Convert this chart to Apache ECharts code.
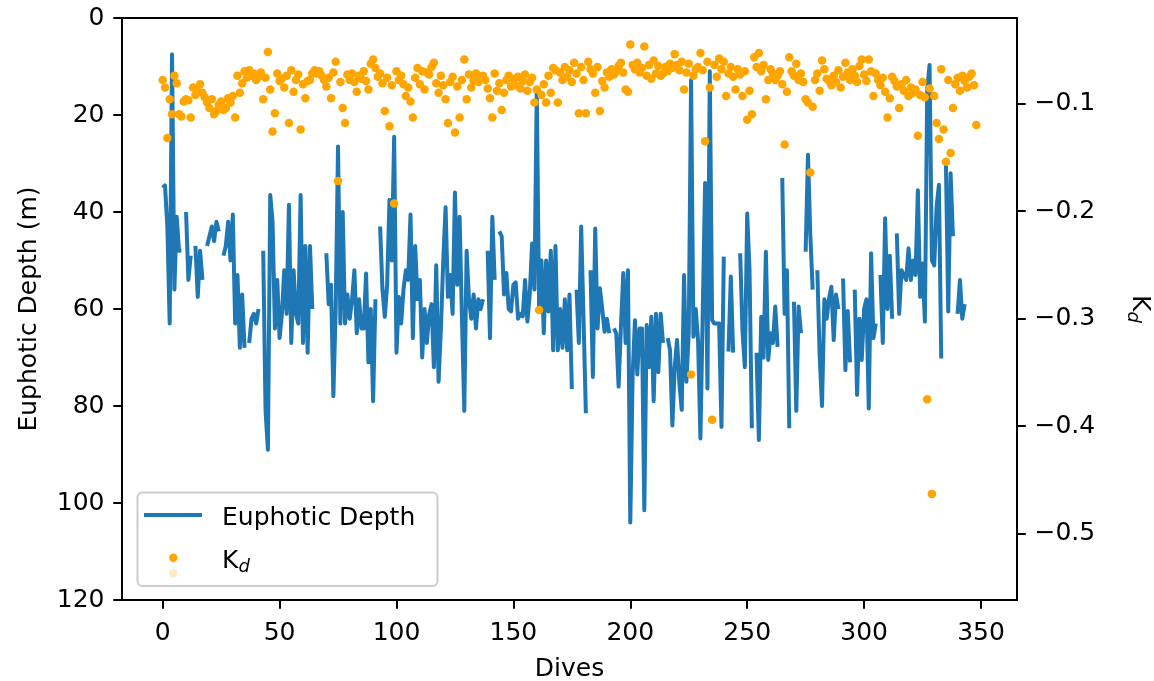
<!DOCTYPE html>
<html>
<head>
<meta charset="utf-8">
<script src="https://cdn.jsdelivr.net/npm/echarts/dist/echarts.min.js"></script>
<style>
  html, body { margin: 0; padding: 0; background: #fff; }
  #c { width: 1154px; height: 681px; }
</style>
</head>
<body>
<div id="c"></div>
<script>
// ---- Data ----
// Euphotic depth (m) per dive, dive = index; null = no value (gap in line)
const depth = [
  35, 34.5, 43, 63, 7.5, 56, 41, 48, 48, null,
  40, 54, 49, null, 47, 57.5, 48, 54, null, 47,
  45, 43, 46, 42, 44, null, 49, 47, 42, 50,
  40.5, 63, 53, 68, 57, 68, null, 67, 62, 61,
  63, 60, null, 48, 81, 89, 36.5, 42, 64, 54,
  66, 61, 52, 61, 38.5, 67, 52, 61, 63, 36.5,
  67, 47, 69, 47, 60, null, null, null, null, null,
  48.5, 59, 55, 78, 60, 26.5, 63, 40, 63, 57,
  62, 58, 52, 65, 58, 64, 64, 52.7, 71, 60,
  79, 58, null, 43, 56, 61.6, 55, 37.5, 50, 24.5,
  69, 57.5, 63, 56, 52, 54, 40.5, 66, 47, 58,
  54, 70, 60, 67, 61, 59, 72, 51, 75, 64,
  50, 39, 57.5, 53, 61, 36, 55, 41, 62, 81,
  48, 58, 62, 57, 64, 58, 60, 58, null, 48,
  66, 41, 54, null, 44, 45, 57, 52.6, 60, 60.5,
  55, 54.5, 62, 61, 61.5, 54, 62.6, 57, 46.5, 56,
  15, 60, 50, 65, 50, 60.5, 48, 68.5, 47, 68.5,
  60, 68, 58, 68.5, 57, 76.5, null, 56, 67, 43,
  62, 81.5, null, 52, 74, 43.4, 64, 55.7, 60, 64.7,
  62, 65, null, 64, 65, 76, 63.6, 52.6, 67, 52,
  104, 73.6, 62.3, 73.5, 64, 64, 101.5, 63.3, 72, 61.6,
  79, 61, 73, 61, 67, null, 66, 68.5, 84, 72,
  66.4, 75.3, 80.8, 53, 75, 65, 12.8, 65.7, 60, 66.7,
  86.7, 60, 34, 76.4, 11, 62.3, 63, 63, 63, 84.3,
  49.2, null, 68.8, 53.3, 69, null, null, 48.5, 64.7, 72,
  40.3, 52, 84.6, null, 69, 87, 61.6, 70, 48.2, 70.5,
  65, 67, 59.5, 67.8, null, 33, 61, 52, 84.6, null,
  58.5, 81, 59.5, 65, null, 48.2, 28.2, 44.7, 56, null,
  52, 69.8, 80, 58, 62, 57.8, 55.4, 66.4, 57, 60,
  null, 53.7, 72.6, 60.4, 71, null, 56, 77.7, 62, 70.5,
  60, 58, 80.5, 48.5, 66, 63, null, 53, 67, 41.3,
  60, 49, 62, null, 44.4, 61, 52, 53, 54, 47.5,
  54, 50, 53, 35.5, 57.5, 50.6, 62.6, 14.8, 9.7, 50,
  51, 39, 34.4, 70.2, null, 30, 60.5, 32, 45, null,
  61, 54, 62, 59
];

// K_d per dive, dive = index
const kd = [
  -0.078, -0.085, -0.132, -0.096, -0.110, -0.074, -0.081, -0.110, -0.112, -0.098,
  -0.096, -0.097, -0.113, -0.085, -0.092, -0.089, -0.082, -0.090, -0.094, -0.099,
  -0.104, -0.096, -0.110, -0.107, -0.101, -0.098, -0.106, -0.104, -0.095, -0.099,
  -0.093, -0.113, -0.074, -0.090, -0.081, -0.070, -0.076, -0.069, -0.074, -0.072,
  -0.078, -0.075, -0.071, -0.096, -0.076, -0.052, -0.087, -0.126, -0.109, -0.072,
  -0.079, -0.077, -0.085, -0.074, -0.118, -0.069, -0.089, -0.078, -0.073, -0.124,
  -0.082, -0.095, -0.079, -0.078, -0.072, -0.069, -0.072, -0.070, -0.074, -0.078,
  -0.084, -0.076, -0.095, -0.071, -0.061, -0.172, -0.080, -0.104, -0.118, -0.073,
  -0.078, -0.072, -0.080, -0.089, -0.074, -0.077, -0.070, -0.079, -0.087, -0.063,
  -0.059, -0.067, -0.075, -0.072, -0.081, -0.107, -0.076, -0.121, -0.083, -0.193,
  -0.070, -0.078, -0.074, -0.082, -0.093, -0.085, -0.098, -0.113, -0.076, -0.067,
  -0.082, -0.070, -0.087, -0.071, -0.073, -0.066, -0.062, -0.081, -0.090, -0.074,
  -0.083, -0.096, -0.118, -0.080, -0.075, -0.127, -0.084, -0.113, -0.078, -0.059,
  -0.096, -0.073, -0.085, -0.079, -0.072, -0.080, -0.077, -0.074, -0.078, -0.086,
  -0.095, -0.113, -0.072, -0.088, -0.081, -0.106, -0.090, -0.078, -0.074, -0.084,
  -0.077, -0.083, -0.075, -0.086, -0.079, -0.073, -0.088, -0.080, -0.076, -0.099,
  -0.087, -0.292, -0.092, -0.082, -0.099, -0.074, -0.090, -0.067, -0.069, -0.099,
  -0.071, -0.078, -0.066, -0.075, -0.069, -0.080, -0.062, -0.072, -0.109, -0.066,
  -0.078, -0.109, -0.061, -0.068, -0.072, -0.090, -0.066, -0.107, -0.079, -0.085,
  -0.071, -0.075, -0.068, -0.073, -0.070, -0.065, -0.062, -0.071, -0.087, -0.089,
  -0.045, -0.064, -0.068, -0.062, -0.071, -0.067, -0.047, -0.074, -0.064, -0.077,
  -0.060, -0.072, -0.065, -0.074, -0.072, -0.066, -0.070, -0.063, -0.067, -0.054,
  -0.064, -0.069, -0.061, -0.087, -0.071, -0.063, -0.352, -0.074, -0.068, -0.066,
  -0.053, -0.069, -0.135, -0.061, -0.085, -0.394, -0.064, -0.075, -0.058, -0.068,
  -0.061, -0.093, -0.072, -0.066, -0.075, -0.087, -0.068, -0.073, -0.093, -0.070,
  -0.115, -0.088, -0.110, -0.057, -0.066, -0.053, -0.070, -0.064, -0.096, -0.078,
  -0.068, -0.072, -0.078, -0.074, -0.070, -0.082, -0.138, -0.089, -0.057, -0.070,
  -0.074, -0.063, -0.078, -0.072, -0.080, -0.096, -0.099, -0.164, -0.103, -0.078,
  -0.072, -0.088, -0.060, -0.068, -0.077, -0.079, -0.083, -0.074, -0.080, -0.069,
  -0.085, -0.075, -0.062, -0.071, -0.078, -0.068, -0.074, -0.080, -0.065, -0.059,
  -0.073, -0.079, -0.059, -0.070, -0.093, -0.072, -0.078, -0.083, -0.076, -0.089,
  -0.113, -0.095, -0.075, -0.079, -0.084, -0.104, -0.082, -0.088, -0.078, -0.093,
  -0.085, -0.090, -0.087, -0.130, -0.092, -0.080, -0.094, -0.375, -0.086, -0.463,
  -0.093, -0.118, -0.133, -0.068, -0.124, -0.154, -0.078, -0.146, -0.104, -0.082,
  -0.076, -0.088, -0.074, -0.079, -0.085, -0.075, -0.072, -0.083, -0.120
];

const xTicks = [0, 50, 100, 150, 200, 250, 300, 350];
const depthTicks = [0, 20, 40, 60, 80, 100, 120];
const kdTicks = [-0.5, -0.4, -0.3, -0.2, -0.1];

// ---- Chart ----
const FONT = 'DejaVu Sans';
const chart = echarts.init(document.getElementById('c'), null, { renderer: 'canvas', width: 1154, height: 681 });

const labelStyle = { fontFamily: FONT, fontSize: 25, color: '#000' };
const lineDepth = depth.map((v, i) => [i, v === null ? '-' : v]);
const ptsKd = kd.map((v, i) => [i, v]);

const option = {
  animation: false,
  backgroundColor: '#ffffff',
  grid: {
    left: 122, right: 137, top: 18, bottom: 81,
    containLabel: false, outerBoundsMode: 'none',
    show: true, borderColor: '#000', borderWidth: 2, backgroundColor: 'transparent'
  },
  xAxis: {
    type: 'value', min: -17.4, max: 365.4,
    name: 'Dives', nameLocation: 'middle', nameGap: 57,
    nameTextStyle: labelStyle,
    axisLine: { show: true, onZero: false, lineStyle: { color: '#000', width: 2 } },
    axisTick: { show: true, customValues: xTicks, length: 8.75, lineStyle: { color: '#000', width: 2 } },
    axisLabel: { customValues: xTicks, margin: 20.5, ...labelStyle },
    splitLine: { show: false }
  },
  yAxis: [
    {
      type: 'value', position: 'left', inverse: true, min: 0, max: 120,
      name: 'Euphotic Depth (m)', nameLocation: 'middle', nameGap: 80,
      nameTextStyle: labelStyle,
      axisLine: { show: true, onZero: false, lineStyle: { color: '#000', width: 2 } },
      axisTick: { show: true, customValues: depthTicks, length: 8.75, lineStyle: { color: '#000', width: 2 } },
      axisLabel: { customValues: depthTicks, margin: 17.5, ...labelStyle },
      splitLine: { show: false }
    },
    {
      type: 'value', position: 'right', min: -0.5617, max: -0.0204,
      name: '{k|K}{d|d}', nameLocation: 'middle', nameGap: 107, nameRotate: -90,
      nameTextStyle: {
        ...labelStyle,
        rich: {
          k: { fontFamily: FONT, fontSize: 25, color: '#000' },
          d: { fontFamily: FONT, fontSize: 18, fontStyle: 'italic', color: '#000', padding: [12, 0, 0, 0] }
        }
      },
      axisLine: { show: true, onZero: false, lineStyle: { color: '#000', width: 2 } },
      axisTick: { show: true, customValues: kdTicks, length: 8.75, lineStyle: { color: '#000', width: 2 } },
      axisLabel: {
        customValues: kdTicks, margin: 17.5, ...labelStyle,
        formatter: v => (v < 0 ? '\u2212' : '') + Math.abs(v).toFixed(1)
      },
      splitLine: { show: false }
    }
  ],
  series: [
    {
      name: 'Euphotic Depth', type: 'line', yAxisIndex: 0,
      data: lineDepth, showSymbol: false, symbol: 'none', connectNulls: false,
      lineStyle: { color: '#1f77b4', width: 4, join: 'round', opacity: 1 },
      z: 2
    },
    {
      name: 'Kd', type: 'scatter', yAxisIndex: 1,
      data: ptsKd, symbol: 'circle', symbolSize: 8.5,
      itemStyle: { color: '#ffa500', opacity: 1 },
      z: 3
    }
  ],
  graphic: [
    { type: 'rect', z: 100, shape: { x: 137.5, y: 492.5, width: 300, height: 93.5, r: 5 },
      style: { fill: 'rgba(255,255,255,0.8)', stroke: '#cccccc', lineWidth: 2 } },
    { type: 'line', z: 101, shape: { x1: 144, y1: 515, x2: 202, y2: 515 },
      style: { stroke: '#1f77b4', lineWidth: 4 } },
    { type: 'text', z: 101, x: 222, y: 518,
      style: { text: 'Euphotic Depth', font: '25px "DejaVu Sans"', fill: '#000', verticalAlign: 'middle' } },
    { type: 'circle', z: 101, shape: { cx: 173.3, cy: 557.7, r: 4.2 }, style: { fill: '#ffa500' } },
    { type: 'circle', z: 101, shape: { cx: 173.3, cy: 573.3, r: 4.2 }, style: { fill: 'rgba(255,165,0,0.22)' } },
    { type: 'text', z: 101, x: 222, y: 561,
      style: {
        text: '{k|K}{d|d}', verticalAlign: 'middle',
        rich: {
          k: { font: '25px "DejaVu Sans"', fill: '#000' },
          d: { font: 'italic 18px "DejaVu Sans"', fill: '#000', padding: [12, 0, 0, 0] }
        }
      } }
  ]
};
chart.setOption(option);
</script>
</body>
</html>
